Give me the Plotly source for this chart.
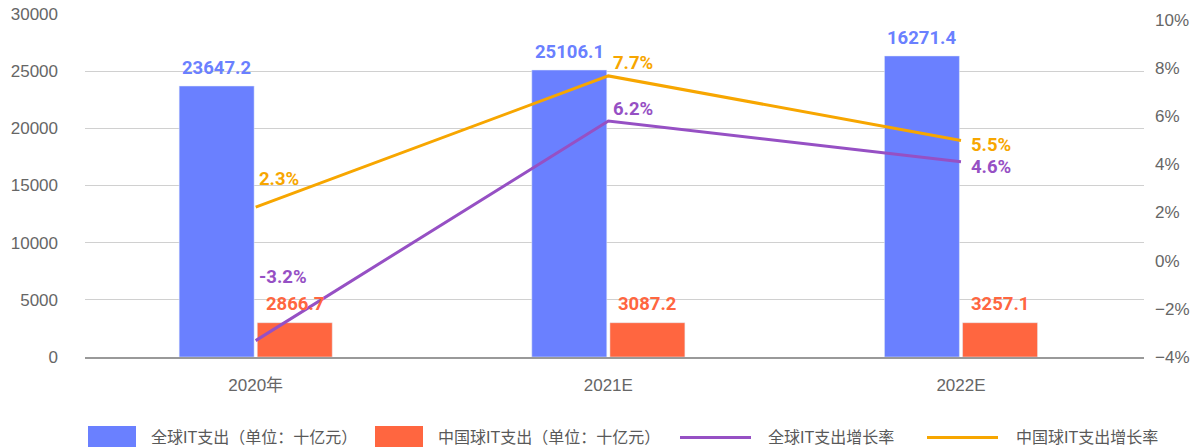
import plotly.graph_objects as go

categories = ["2020年", "2021E", "2022E"]
global_it = [23700, 25100, 26330]
global_it_labels = ["23647.2", "25106.1", "16271.4"]
china_it = [3000, 3000, 3000]
china_it_labels = ["2866.7", "3087.2", "3257.1"]
global_growth = [-3.32, 5.80, 4.11]
global_growth_labels = ["-3.2%", "6.2%", "4.6%"]
china_growth = [2.22, 7.67, 4.99]
china_growth_labels = ["2.3%", "7.7%", "5.5%"]
legend_names = ["全球IT支出（单位：十亿元）", "中国球IT支出（单位：十亿元）", "全球IT支出增长率", "中国球IT支出增长率"]

BLUE = "#6A80FF"
RED = "#FF6640"
PURPLE = "#9650C4"
ORANGE = "#F7A600"
GRAY = "#666666"
LABEL_FONT = "Roboto, Liberation Sans, sans-serif"
TICK_FONT = "Liberation Sans, Arial, Noto Sans CJK SC, sans-serif"
LBL = dict(family=LABEL_FONT, size=18.5, weight="bold")

W, H = 1204, 447
ML, MR, MT, MB = 85, 60, 14, 90
PW, PH = W - ML - MR, H - MT - MB


def px(x):
    return (x - ML) / PW


def py(y):
    return (H - MB - y) / PH


fig = go.Figure()
fig.add_trace(go.Bar(x=categories, y=global_it, name=legend_names[0], marker_color=BLUE,
                     width=0.2126, offset=-0.217, showlegend=False))
fig.add_trace(go.Bar(x=categories, y=china_it, name=legend_names[1], marker_color=RED,
                     width=0.2126, offset=0.0045, showlegend=False))
fig.add_trace(go.Scatter(x=categories, y=global_growth, name=legend_names[2], yaxis="y2",
                         mode="lines", line=dict(color=PURPLE, width=3), showlegend=False))
fig.add_trace(go.Scatter(x=categories, y=china_growth, name=legend_names[3], yaxis="y2",
                         mode="lines", line=dict(color=ORANGE, width=3), showlegend=False))

annotations = []
for c, v, t in zip(categories, global_it, global_it_labels):
    annotations.append(dict(x=c, y=v, xref="x", yref="y", text=t, showarrow=False,
                            xshift=-39, yshift=18, yanchor="middle",
                            font=dict(LBL, color=BLUE)))
for c, v, t in zip(categories, china_it, china_it_labels):
    annotations.append(dict(x=c, y=v, xref="x", yref="y", text=t, showarrow=False,
                            xshift=39, yshift=19, yanchor="middle",
                            font=dict(LBL, color=RED)))
xs = [1, 3, 8]
ys_g = [64, 12, -5]
ys_c = [28, 13, -5]
for i, (c, v, t) in enumerate(zip(categories, global_growth, global_growth_labels)):
    annotations.append(dict(x=c, y=v, xref="x", yref="y2", text=t, showarrow=False,
                            xanchor="left", xshift=xs[i], yshift=ys_g[i], yanchor="middle",
                            font=dict(LBL, color=PURPLE)))
for i, (c, v, t) in enumerate(zip(categories, china_growth, china_growth_labels)):
    annotations.append(dict(x=c, y=v, xref="x", yref="y2", text=t, showarrow=False,
                            xanchor="left", xshift=xs[i], yshift=ys_c[i], yanchor="middle",
                            font=dict(LBL, color=ORANGE)))

# manual legend
shapes = []
leg_y = 437.5
items = [("rect", BLUE, 88, 136, 149), ("rect", RED, 375, 423, 436),
         ("line", PURPLE, 680, 751, 766), ("line", ORANGE, 927, 998, 1014)]
for (kind, col, x0, x1, tx), name in zip(items, legend_names):
    if kind == "rect":
        shapes.append(dict(type="rect", xref="paper", yref="paper", x0=px(x0), x1=px(x1),
                           y0=py(448), y1=py(426), fillcolor=col, line=dict(width=0)))
    else:
        shapes.append(dict(type="line", xref="paper", yref="paper", x0=px(x0), x1=px(x1),
                           y0=py(leg_y), y1=py(leg_y), line=dict(color=col, width=3)))
    annotations.append(dict(x=px(tx), y=py(leg_y), xref="paper", yref="paper", text=name,
                            showarrow=False, xanchor="left", yanchor="middle",
                            font=dict(family="Liberation Sans, Noto Sans CJK SC, sans-serif",
                                      size=16, color="#595959")))

fig.update_layout(
    width=W, height=H,
    margin=dict(l=ML, r=MR, t=MT, b=MB, autoexpand=False),
    paper_bgcolor="white", plot_bgcolor="white",
    barmode="overlay",
    showlegend=False,
    xaxis=dict(type="category", range=[-0.484, 2.519], showgrid=False,
               showline=True, linecolor="#999999", linewidth=1.5,
               tickfont=dict(family=TICK_FONT, size=17, color=GRAY),
               ticks="", ticklabelstandoff=12),
    yaxis=dict(range=[0, 30000], dtick=5000, showgrid=True, gridcolor="#D0D0D0", gridwidth=1,
               zeroline=False, showline=False, tickformat="d",
               tickfont=dict(family=TICK_FONT, size=17, color=GRAY), ticklabelstandoff=26),
    yaxis2=dict(range=[-4, 10.24], dtick=2, overlaying="y", side="right", showgrid=False,
                zeroline=False, showline=False, ticksuffix="%",
                tickfont=dict(family=TICK_FONT, size=17, color=GRAY), ticklabelstandoff=10),
    annotations=annotations,
    shapes=shapes,
)

fig.write_html("out.html", config={"displayModeBar": False},
               post_script="document.body.style.margin='0px';document.body.style.overflow='hidden';")
